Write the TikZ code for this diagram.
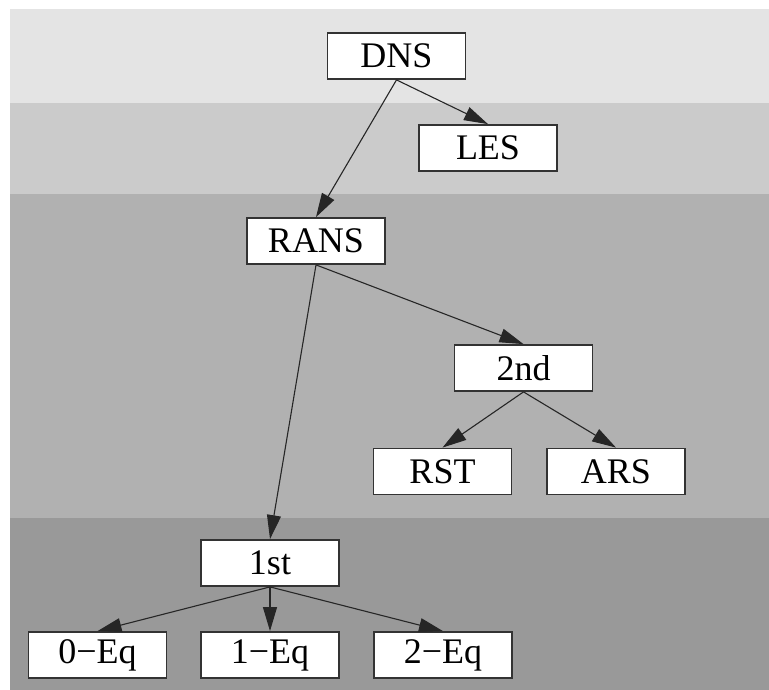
\documentclass[tikz,border=0pt]{standalone}
\usepackage{fontspec}
\setmainfont{Liberation Serif}
\usetikzlibrary{arrows.meta}
\definecolor{bandA}{HTML}{E4E4E4}
\definecolor{bandB}{HTML}{CBCBCB}
\definecolor{bandC}{HTML}{B1B1B1}
\definecolor{bandD}{HTML}{999999}
\definecolor{boxline}{HTML}{333333}
\tikzset{
  model/.style={draw=boxline, line width=1.8pt, fill=white,
    minimum width=138pt, minimum height=46pt, inner sep=0pt,
    font=\fontsize{36}{36}\selectfont},
  link/.style={draw=black!85, line width=1.1pt,
    -{Triangle[length=24pt,width=14pt]}}
}
\begin{document}
\begin{tikzpicture}[x=1pt,y=-1pt]
\useasboundingbox (0,0) rectangle (769,690);
% level bands
\fill[bandA] (10,9) rectangle (769,103);
\fill[bandB] (10,103) rectangle (769,194);
\fill[bandC] (10,194) rectangle (769,518);
\fill[bandD] (10,518) rectangle (769,690);
% models
\node[model] (dns)  at (396.5,56)  {DNS};
\node[model] (les)  at (488,148)   {LES};
\node[model] (rans) at (316,241)   {RANS};
\node[model] (snd)  at (523.5,368) {2nd};
\node[model] (rst)  at (442.5,471.5) {RST};
\node[model] (ars)  at (616,471.5) {ARS};
\node[model] (fst)  at (270,563)   {1st};
\node[model] (eq0)  at (97.5,655)  {0−Eq};
\node[model] (eq1)  at (270,655)   {1−Eq};
\node[model] (eq2)  at (443,655)   {2−Eq};
% hierarchy
\draw[link] (dns.south) -- (les.north);
\draw[link] (dns.south) -- (rans.north);
\draw[link] (rans.south) -- (snd.north);
\draw[link] (rans.south) -- (fst.north);
\draw[link] (snd.south) -- (rst.north);
\draw[link] (snd.south) -- (ars.north);
\draw[link] (fst.south) -- (eq0.north);
\draw[link] (fst.south) -- (eq1.north);
\draw[link] (fst.south) -- (eq2.north);
\end{tikzpicture}
\end{document}
